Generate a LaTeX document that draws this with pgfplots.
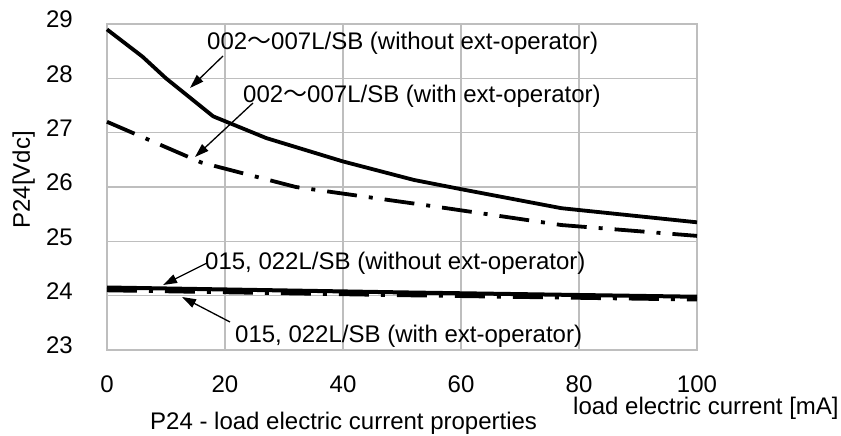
\documentclass[border=0pt]{standalone}
\usepackage{pgfplots}
\pgfplotsset{compat=1.18}
\usetikzlibrary{arrows.meta}
\usepackage{fontspec}
\setmainfont{Liberation Sans}
\newfontfamily\cjk{Noto Sans CJK JP}
\definecolor{gridgray}{RGB}{190,190,190}

\begin{document}
\begin{tikzpicture}[x=1bp,y=1bp, font=\fontsize{24bp}{28bp}\selectfont]
\useasboundingbox (-107,-86) rectangle (734,350);
\begin{axis}[at={(0,0)}, anchor=south west, scale only axis,
  width=590bp, height=326bp,
  xmin=0, xmax=100, ymin=23, ymax=29,
  xtick={0,20,40,60,80,100}, ytick={23,24,25,26,27,28,29},
  grid=major, major grid style={gridgray, line width=1.1bp},
  axis line style={gridgray, line width=1.1bp},
  major tick length=0pt, tick style={draw=none},
  /pgf/number format/assume math mode=true,
  ticklabel style={font=\fontsize{24bp}{28bp}\selectfont},
  xticklabel style={anchor=base, yshift=-43bp},
  yticklabel style={anchor=base east, inner sep=0pt, xshift=-34bp, yshift=-4bp},
  clip=false]
\addplot[black, line width=3.8bp, line join=round] coordinates {
 (0,28.9) (6,28.4) (10,28.0) (18,27.3) (27,26.9) (40,26.47) (52,26.13) (60,25.96) (77,25.61) (100,25.35)};
\addplot[black, line width=3.8bp, line join=round, dash pattern=on 30bp off 12bp on 4bp off 12bp] coordinates {
 (0,27.2) (16,26.45) (32,26.0) (55,25.65) (77,25.3) (100,25.1)};
\addplot[black, line width=4bp] coordinates {
 (0,24.15) (50,24.06) (100,23.98)};
\addplot[black, line width=4bp, dash pattern=on 30bp off 12bp on 4bp off 12bp] coordinates {
 (0,24.1) (50,24.01) (100,23.93)};
\end{axis}
\node[anchor=base west, inner sep=0pt] at (100,300) {002{\cjk ～}007L/SB (without ext-operator)};
\node[anchor=base west, inner sep=0pt] at (136,247) {002{\cjk ～}007L/SB (with ext-operator)};
\node[anchor=base west, inner sep=0pt] at (98,80) {015, 022L/SB (without ext-operator)};
\node[anchor=base west, inner sep=0pt] at (128,7) {015, 022L/SB (with ext-operator)};
\node[anchor=base west, inner sep=0pt] at (466,-65) {load electric current [mA]};
\node[anchor=base west, inner sep=0pt] at (43,-80) {P24 - load electric current properties};
\node[rotate=90, anchor=base, inner sep=0pt] at (-77,170) {P24[Vdc]};
\draw[line width=1.3bp, -{Triangle[length=14bp,width=9bp]}] (116,294) -- (83,262);
\draw[line width=1.3bp, -{Triangle[length=14bp,width=9bp]}] (146,247) -- (88,193);
\draw[line width=1.3bp, -{Triangle[length=14bp,width=9bp]}] (100,87) -- (56,65);
\draw[line width=1.3bp, -{Triangle[length=14bp,width=9bp]}] (123,28) -- (75,53);
\end{tikzpicture}
\end{document}
